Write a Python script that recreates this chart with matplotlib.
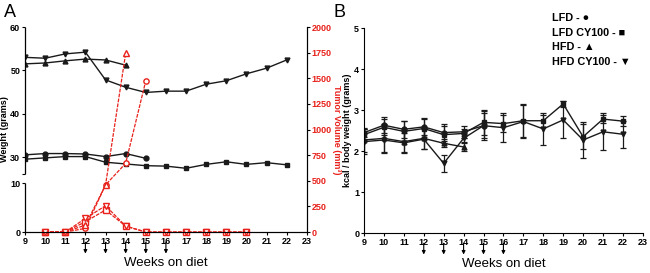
import numpy as np
import matplotlib
matplotlib.use("Agg")
import matplotlib.pyplot as plt

plt.rcParams['font.family'] = ['Liberation Sans', 'DejaVu Sans']

weeks = np.arange(9, 23)

# panel A - body weight (grams)
w_lfd = [30.5, 30.8, 30.8, 30.7, 30.1, 30.8, 29.7]
w_lfd_cy = [29.5, 29.8, 30.1, 30.1, 28.8, 28.4, 28.0, 27.9, 27.4, 28.3, 28.9, 28.3, 28.7, 28.2]
w_hfd = [51.5, 51.7, 52.2, 52.6, 52.4, 51.2]
w_hfd_cy = [53.0, 52.8, 53.8, 54.2, 47.8, 46.1, 44.9, 45.2, 45.2, 46.8, 47.6, 49.2, 50.5, 52.4]

# panel A - tumor volume (mm3)
t_weeks = np.arange(10, 21)
t_lfd = [0, 0, 36, 460, 670, 1476]
t_lfd_cy = [0, 0, 101, 215, 58, 0, 0, 0, 0, 0, 0]
t_hfd = [0, 0, 68, 458, 1743]
t_hfd_cy = [0, 0, 133, 257, 58, 0, 0, 0, 0, 0, 0]

# panel B - kcal / body weight
k_lfd = [2.45, 2.63, 2.53, 2.59, 2.45, 2.47, 2.62]
k_lfd_err = [0.10, 0.20, 0.20, 0.20, 0.20, 0.15, 0.30]
k_lfd_cy = [2.40, 2.58, 2.48, 2.55, 2.40, 2.43, 2.70, 2.67, 2.74, 2.74, 3.15, 2.35, 2.78, 2.73]
k_lfd_cy_err = [0.15, 0.20, 0.25, 0.25, 0.20, 0.10, 0.30, 0.20, 0.40, 0.15, 0.08, 0.30, 0.10, 0.12]
k_hfd = [2.27, 2.31, 2.23, 2.31, 2.19, 2.10]
k_hfd_err = [0.30, 0.35, 0.25, 0.25, 0.10, 0.10]
k_hfd_cy = [2.23, 2.27, 2.20, 2.29, 1.70, 2.31, 2.62, 2.57, 2.72, 2.54, 2.76, 2.27, 2.47, 2.41]
k_hfd_cy_err = [0.30, 0.30, 0.25, 0.25, 0.20, 0.10, 0.35, 0.35, 0.40, 0.40, 0.45, 0.45, 0.45, 0.33]

arrow_weeks = [12, 13, 14, 15, 16]


# broken y axis for weight: 0-10 then 26-60
def fwd(y):
    y = np.asarray(y, dtype=float)
    return np.where(y <= 10, y * 4.9,
                    np.where(y < 26, 49 + (y - 10) * 0.544, 57.7 + (y - 26) * 4.333))


def inv(v):
    v = np.asarray(v, dtype=float)
    return np.where(v <= 49, v / 4.9,
                    np.where(v < 57.7, 10 + (v - 49) / 0.544, 26 + (v - 57.7) / 4.333))


fig = plt.figure(figsize=(6.5, 2.73), dpi=100)
ax = fig.add_axes([0.0385, 0.150, 0.4335, 0.751])
axr = ax.twinx()
axb = fig.add_axes([0.560, 0.1465, 0.429, 0.7505])

tick_kw = dict(labelsize=6.5, length=2.5, width=0.8, pad=1)
red = '#e8211b'

# weight lines
ax.set_yscale('function', functions=(fwd, inv))
mk = dict(color='#1a1a1a', lw=1.0, ms=3.5)
ax.plot(weeks[:7], w_lfd, marker='o', **mk)
ax.plot(weeks, w_lfd_cy, marker='s', **mk)
ax.plot(weeks[:6], w_hfd, marker='^', **mk)
ax.plot(weeks, w_hfd_cy, marker='v', **mk)
ax.set_ylim(0, 60)
ax.set_xlim(9, 23)
ax.set_yticks([0, 10, 26, 30, 40, 50, 60])
ax.set_yticklabels(['0', '10', '', '30', '40', '50', '60'], fontweight='bold')
ax.set_xticks(range(9, 24))
ax.set_xticklabels([str(w) for w in range(9, 24)], fontweight='bold')
ax.tick_params(**tick_kw)
ax.spines['top'].set_visible(False)
ax.spines['left'].set_visible(False)
ax.vlines(0, 0, 10, transform=ax.get_yaxis_transform(), color='k', lw=0.9, clip_on=False)
ax.vlines(0, 26, 60, transform=ax.get_yaxis_transform(), color='k', lw=0.9, clip_on=False)
ax.set_ylabel('Weight (grams)', fontsize=6.5, fontweight='bold')
ax.yaxis.set_label_coords(-0.057, 0.5)
ax.set_xlabel('Weeks on diet', fontsize=9.5, va='top')
ax.xaxis.set_label_coords(0.5, -0.122)

# tumor volume
rk = dict(color=red, lw=0.9, ms=3.8, mfc='white', mew=1.0, ls=(0, (3, 1)), clip_on=False)
axr.plot(t_weeks[:6], t_lfd, marker='o', **rk)
axr.plot(t_weeks, t_lfd_cy, marker='s', **rk)
axr.plot(t_weeks[:5], t_hfd, marker='^', **rk)
axr.plot(t_weeks, t_hfd_cy, marker='v', **rk)
axr.set_ylim(0, 2000)
axr.set_yticks(range(0, 2001, 250))
axr.set_yticklabels([str(v) for v in range(0, 2001, 250)], fontweight='bold', color=red)
axr.tick_params(**tick_kw)
axr.spines['top'].set_visible(False)
axr.spines['left'].set_visible(False)
axr.set_ylabel('Tumor Volume (mm³)', fontsize=6.5, fontweight='bold', color=red,
               rotation=270, va='bottom')
axr.yaxis.set_label_coords(1.089, 0.5)

# panel B
ek = dict(color='#1a1a1a', lw=1.0, ms=3.5, capsize=2.5, elinewidth=0.9, capthick=0.9)
axb.errorbar(weeks[:7], k_lfd, yerr=k_lfd_err, marker='o', **ek)
axb.errorbar(weeks, k_lfd_cy, yerr=k_lfd_cy_err, marker='s', **ek)
axb.errorbar(weeks[:6], k_hfd, yerr=k_hfd_err, marker='^', **ek)
axb.errorbar(weeks, k_hfd_cy, yerr=k_hfd_cy_err, marker='v', **ek)
axb.set_xlim(9, 23)
axb.set_ylim(0, 5)
axb.set_xticks(range(9, 24))
axb.set_xticklabels([str(w) for w in range(9, 24)], fontweight='bold')
axb.set_yticks(range(0, 6))
axb.set_yticklabels([str(v) for v in range(0, 6)], fontweight='bold')
axb.tick_params(**tick_kw)
axb.spines['top'].set_visible(False)
axb.spines['right'].set_visible(False)
axb.set_ylabel('kcal / body weight (grams)', fontsize=6.5, fontweight='bold')
axb.yaxis.set_label_coords(-0.043, 0.5)
axb.set_xlabel('Weeks on diet', fontsize=9.5, va='top')
axb.xaxis.set_label_coords(0.5, -0.122)

legend_lines = ['LFD - ●', 'LFD CY100 - ■', 'HFD - ▲', 'HFD CY100 - ▼']
for i, t in enumerate(legend_lines):
    fig.text(0.849, 1 - (18 + i * 14.5) / 273, t, fontsize=7.8, fontweight='bold',
             va='center', family=['Liberation Sans', 'DejaVu Sans'])

# injection arrows
for a in (ax, axb):
    for w in arrow_weeks:
        a.annotate('', xy=(w, -0.105), xytext=(w, -0.05),
                   xycoords=('data', 'axes fraction'),
                   arrowprops=dict(arrowstyle='-|>', color='k', lw=0.8,
                                   mutation_scale=5, shrinkA=0, shrinkB=0))

fig.text(0.006, 0.955, 'A', fontsize=13, va='center')
fig.text(0.513, 0.955, 'B', fontsize=13, va='center')

fig.savefig('out.png', dpi=100)
